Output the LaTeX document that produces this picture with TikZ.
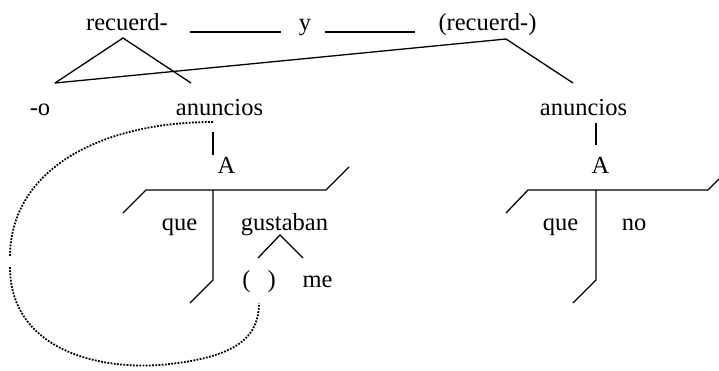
\documentclass[tikz,border=0pt]{standalone}
\usepackage{fontspec}
\setmainfont{Liberation Serif}
\begin{document}
\begin{tikzpicture}[x=1pt,y=-1pt,line width=1.3pt,
		word/.style={inner sep=0pt,anchor=base,font=\fontsize{24.5}{29}\selectfont},
		link/.style={line width=1.8pt,dash pattern=on 1.8pt off 1.4pt}]
	\useasboundingbox (0,0) rectangle (719,370);
	
	\node[word] (recL) at (127,30) {recuerd-};
	\node[word] (y) at (305,30) {y};
	\node[word] (recR) at (487.5,30) {(recuerd-)};
	\draw (190,32) -- (281,32);
	\draw (325,32) -- (415,32);
	
	\node[word] (o) at (40,115) {-o};
	\node[word] (anL) at (219.5,115) {anuncios};
	\node[word] (anR) at (583.5,115) {anuncios};
	
	\coordinate (recL-foot) at (123,38);
	\coordinate (recR-foot) at (506,39);
	\coordinate (o-top) at (55,83);
	\coordinate (anL-top) at (191,83);
	\coordinate (anR-top) at (573,83);
	\draw (o-top) -- (recL-foot) -- (anL-top);
	\draw (o-top) -- (recR-foot) -- (anR-top);
	
	% relative clause, left
	\node[word] (AL) at (226.5,173) {A};
	\node[word] (queL) at (179.5,230) {que};
	\node[word] (gus) at (284.5,230) {gustaban};
	\node[word] (par) at (259,287) {(\hspace{.7em})};
	\node[word] (me) at (317.5,287) {me};
	\draw (213,132) -- (213,155);
	\draw (123,213) -- (146,190) -- (326,190) -- (349,167);
	\draw (213,190) -- (213,280) -- (190,303);
	\draw (258,258) -- (280,235) -- (303,258);
	
	% relative clause, right
	\node[word] (AR) at (600.5,173) {A};
	\node[word] (queR) at (560.5,230) {que};
	\node[word] (no) at (634,230) {no};
	\draw (596,123) -- (596,145);
	\draw (506,213) -- (528,190) -- (708,190) -- (719,179);
	\draw (596,190) -- (596,280) -- (573,303);
	
	% dotted link
	\draw[link] (213,122) .. controls (100,122) and (10,170) .. (10,257);
	\draw[link] (10,267) .. controls (10,350) and (100,372) .. (170,364) .. controls (240,356) and (259,335) .. (259,303);
\end{tikzpicture}
\end{document}
